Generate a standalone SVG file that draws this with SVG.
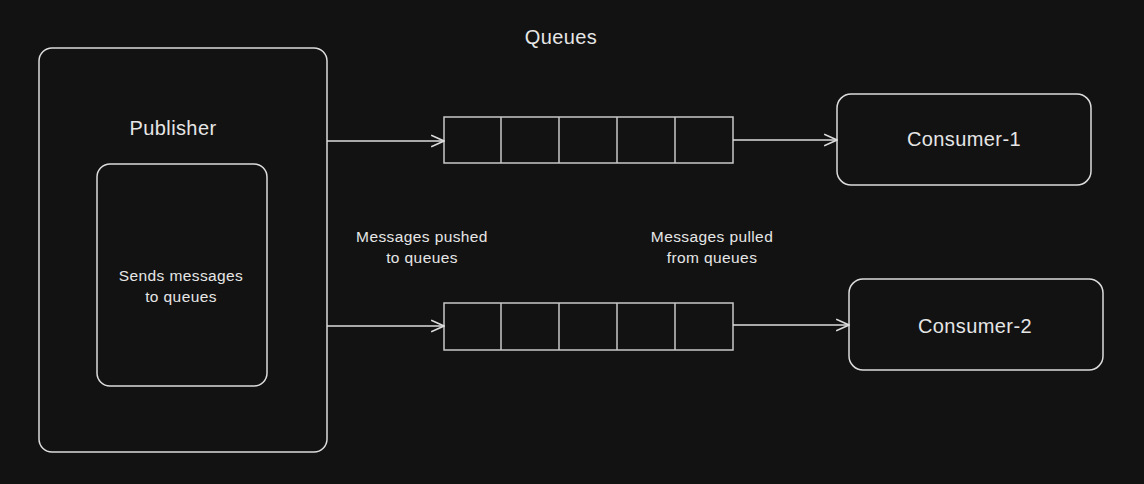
<svg xmlns="http://www.w3.org/2000/svg" width="1144" height="484" viewBox="0 0 1144 484">
<defs>
<style>
.box{fill:#121212;stroke:#dcdcdc;stroke-width:1.5}
.cell{fill:none;stroke:#c8c8c8;stroke-width:1.5}
.conn{fill:none;stroke:#dcdcdc;stroke-width:1.6}
.t{font-family:"Liberation Sans","DejaVu Sans",sans-serif;fill:#e6e6e6;text-anchor:middle}
.big{font-size:20px;letter-spacing:0.4px}
.small{font-size:15.5px;letter-spacing:0.4px}
</style>
<marker id="arr" viewBox="0 0 12 12" refX="11" refY="6" markerWidth="14" markerHeight="14" markerUnits="userSpaceOnUse" orient="auto">
<path d="M0,1 L11,6 L0,11" fill="none" stroke="#dcdcdc" stroke-width="1.3"/>
</marker>
</defs>
<rect width="1144" height="484" fill="#121212"/>
<text class="t big" x="561" y="44">Queues</text>
<g id="publisher">
<rect class="box" x="39" y="48" width="288" height="404" rx="13"/>
<text class="t big" x="173" y="135">Publisher</text>
</g>
<g id="sender">
<rect class="box" x="97" y="164" width="170" height="222" rx="13"/>
<text class="t small" x="181" y="281">Sends messages</text>
<text class="t small" x="181" y="302">to queues</text>
</g>
<g id="queue1">
<rect class="cell" x="444" y="117" width="289" height="46"/>
<path class="cell" d="M501,117V163M559,117V163M617,117V163M675,117V163"/>
</g>
<g id="queue2">
<rect class="cell" x="444" y="303" width="289" height="47"/>
<path class="cell" d="M501,303V350M559,303V350M617,303V350M675,303V350"/>
</g>
<g id="consumer1">
<rect class="box" x="837" y="94" width="254" height="91" rx="14"/>
<text class="t big" x="964" y="146">Consumer-1</text>
</g>
<g id="consumer2">
<rect class="box" x="849" y="279" width="254" height="91" rx="14"/>
<text class="t big" x="975" y="333">Consumer-2</text>
</g>
<g id="connectors">
<path class="conn" d="M327,141H444" marker-end="url(#arr)"/>
<path class="conn" d="M733,140H837" marker-end="url(#arr)"/>
<path class="conn" d="M327,326H444" marker-end="url(#arr)"/>
<path class="conn" d="M733,325H849" marker-end="url(#arr)"/>
</g>
<text class="t small" x="422" y="242">Messages pushed</text>
<text class="t small" x="422" y="263">to queues</text>
<text class="t small" x="712" y="242">Messages pulled</text>
<text class="t small" x="712" y="263">from queues</text>
</svg>
